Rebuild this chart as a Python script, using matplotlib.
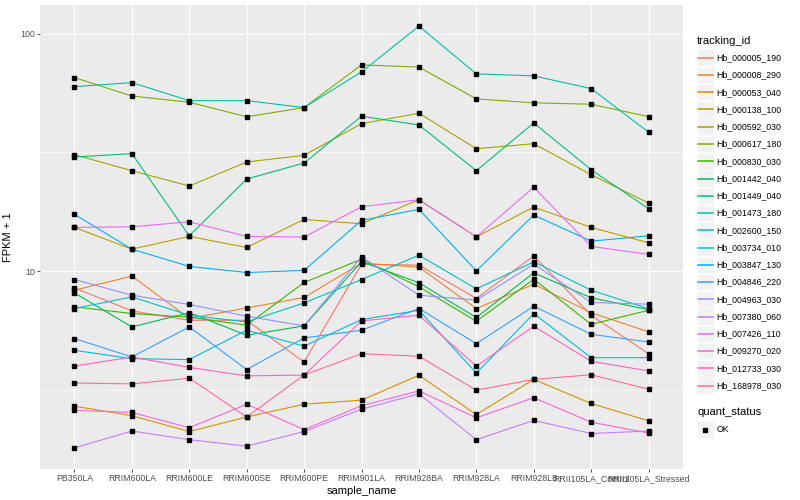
import numpy as np
import matplotlib
matplotlib.use("Agg")
import matplotlib.pyplot as plt
from matplotlib.patches import Rectangle
from matplotlib.lines import Line2D

plt.rcParams['font.family'] = ['Liberation Sans', 'DejaVu Sans']

samples = ["PB350LA", "RRIM600LA", "RRIM600LE", "RRIM600SE", "RRIM600PE",
           "RRIM901LA", "RRIM928BA", "RRIM928LA", "RRIM928LB",
           "RRII105LA_Control", "RRII105LA_Stressed"]

tracking_ids = ["Hb_000005_190", "Hb_000008_290", "Hb_000053_040", "Hb_000138_100",
                "Hb_000592_030", "Hb_000617_180", "Hb_000830_030", "Hb_001442_040",
                "Hb_001449_040", "Hb_001473_180", "Hb_002600_150", "Hb_003734_010",
                "Hb_003847_130", "Hb_004846_220", "Hb_004963_030", "Hb_007380_060",
                "Hb_007426_110", "Hb_009270_020", "Hb_012733_030", "Hb_168978_030"]

hue_colors = ["#F8766D", "#EA8331", "#D89000", "#C09B00", "#A3A500", "#7CAE00",
              "#39B600", "#00BB4E", "#00BF7D", "#00C1A3", "#00BFC4", "#00BAE0",
              "#00B0F6", "#35A2FF", "#9590FF", "#C77CFF", "#E76BF3", "#FA62DB",
              "#FF62BC", "#FF6C91"]

# FPKM + 1 values per tracking id, in sample order
hb_000005_190 = [8.50, 6.80, 6.21, 6.21, 4.14, 10.70, 10.60, 7.67, 11.60, 6.52, 4.49]
hb_000008_290 = [8.31, 9.53, 6.32, 7.00, 7.75, 10.81, 10.40, 6.96, 8.82, 6.68, 5.55]
hb_000053_040 = [2.70, 2.46, 2.11, 2.43, 2.75, 2.86, 3.64, 2.49, 3.50, 2.77, 2.34]
hb_000138_100 = [15.29, 12.38, 14.01, 12.59, 16.52, 15.83, 20.0, 13.95, 18.62, 15.29, 13.17]
hb_000592_030 = [30.95, 26.5, 22.84, 28.84, 30.77, 41.83, 46.29, 32.8, 34.44, 25.49, 19.36]
hb_000617_180 = [65.4, 54.7, 51.5, 44.7, 48.9, 74.0, 72.4, 53.2, 51.2, 50.5, 44.8]
hb_000830_030 = [7.07, 6.63, 6.40, 5.92, 8.96, 11.23, 8.59, 6.15, 9.25, 5.97, 6.84]
hb_001442_040 = [8.10, 5.82, 6.69, 5.37, 5.88, 10.97, 8.93, 6.38, 9.84, 7.72, 6.88]
hb_001449_040 = [30.27, 31.26, 14.09, 24.44, 28.56, 44.96, 41.3, 26.5, 42.12, 26.76, 18.32]
hb_001473_180 = [59.9, 62.3, 52.3, 52.3, 48.9, 69.1, 107.8, 67.8, 66.5, 58.8, 38.5]
hb_002600_150 = [6.96, 7.79, 6.52, 6.11, 7.35, 9.22, 11.68, 8.42, 10.95, 8.31, 6.95]
hb_003734_010 = [4.64, 4.28, 4.24, 5.64, 4.83, 6.25, 6.84, 3.72, 6.63, 4.32, 4.32]
hb_003847_130 = [17.35, 12.38, 10.47, 9.87, 10.07, 16.37, 18.21, 10.03, 17.23, 13.38, 14.09]
hb_004846_220 = [5.20, 4.35, 5.82, 3.85, 5.23, 5.64, 6.96, 4.95, 7.12, 5.42, 5.03]
hb_004963_030 = [9.22, 7.92, 7.24, 6.46, 5.88, 11.49, 7.92, 7.55, 10.70, 7.38, 7.26]
hb_007380_060 = [1.80, 2.12, 1.95, 1.83, 2.11, 2.62, 3.04, 1.95, 2.35, 2.07, 2.12]
hb_007426_110 = [15.29, 15.38, 16.14, 14.01, 13.92, 18.68, 20.0, 13.95, 22.56, 12.72, 11.76]
hb_009270_020 = [2.59, 2.54, 2.19, 2.75, 2.15, 2.71, 3.13, 2.41, 2.93, 2.31, 2.08]
hb_012733_030 = [3.98, 4.35, 3.93, 3.62, 3.65, 6.17, 6.52, 3.98, 5.86, 4.17, 3.80]
hb_168978_030 = [3.38, 3.35, 3.54, 2.43, 3.65, 4.49, 4.38, 3.15, 3.50, 3.66, 3.18]

series = [hb_000005_190, hb_000008_290, hb_000053_040, hb_000138_100, hb_000592_030,
          hb_000617_180, hb_000830_030, hb_001442_040, hb_001449_040, hb_001473_180,
          hb_002600_150, hb_003734_010, hb_003847_130, hb_004846_220, hb_004963_030,
          hb_007380_060, hb_007426_110, hb_009270_020, hb_012733_030, hb_168978_030]

quant_levels = ["OK"]
y_ticks = [10, 100]

W, H = 800, 500
fig = plt.figure(figsize=(8, 5), dpi=100)

L, R, T, B = 40, 683, 5, 469
ax = fig.add_axes([L / W, 1 - B / H, (R - L) / W, (B - T) / H])
ax.set_facecolor("#EBEBEB")
for s in ax.spines.values():
    s.set_visible(False)

x = np.arange(1, len(samples) + 1)
for vals, col in zip(series, hue_colors):
    ax.plot(x, vals, color=col, lw=0.8, zorder=3, solid_capstyle='butt')
for vals in series:
    ax.plot(x, vals, ls='none', marker='s', ms=2.2, color='black', zorder=4)

ax.set_yscale('log')
allv = np.log10(np.concatenate([np.array(v) for v in series]))
lo, hi = allv.min(), allv.max()
pad = 0.05 * (hi - lo)
ax.set_ylim(10 ** (lo - pad), 10 ** (hi + pad))
ax.set_xlim(0.4, len(samples) + 0.6)

ax.set_yticks(y_ticks)
ax.set_yticklabels([str(t) for t in y_ticks])
ax.set_yticks([10 ** 0.5, 10 ** 1.5], minor=True)
ax.yaxis.set_minor_formatter(matplotlib.ticker.NullFormatter())
ax.set_xticks(x)
ax.set_xticklabels(samples)
ax.set_axisbelow(True)
ax.grid(which='major', color='white', lw=0.85)
ax.grid(which='minor', axis='y', color='white', lw=0.45)
ax.tick_params(which='major', length=2.0, width=0.6, color='#333333',
               labelsize=6.3, labelcolor='#4D4D4D', pad=1.6)
ax.tick_params(which='minor', length=0)

ax.set_xlabel("sample_name", fontsize=8, color='black', labelpad=2)
ax.set_ylabel("FPKM + 1", fontsize=8, color='black', labelpad=5)

# legend overlay in pixel coordinates
ov = fig.add_axes([0, 0, 1, 1])
ov.set_xlim(0, W)
ov.set_ylim(H, 0)
ov.axis('off')

lx = 697
ov.text(lx, 40.5, "tracking_id", fontsize=8, va='center', ha='left')
y0, dy = 57.7, 17.26
ks = 16.5
for i, (tid, col) in enumerate(zip(tracking_ids, hue_colors)):
    yc = y0 + i * dy
    ov.add_patch(Rectangle((lx, yc - ks / 2), ks, ks, facecolor='#F2F2F2',
                           edgecolor='white', lw=0.5))
    ov.add_line(Line2D([lx + 0.8, lx + ks - 0.8], [yc, yc], color=col, lw=1.1))
    ov.text(lx + 19.5, yc, tid, fontsize=6.3, va='center', ha='left')

ov.text(lx, 412.3, "quant_status", fontsize=8, va='center', ha='left')
for j, q in enumerate(quant_levels):
    yc = 429.5 + j * dy
    ov.add_patch(Rectangle((lx, yc - ks / 2), ks, ks, facecolor='#F2F2F2',
                           edgecolor='white', lw=0.5))
    ov.plot([lx + ks / 2], [yc], marker='s', ms=2.2, color='black', ls='none')
    ov.text(lx + 19.5, yc, q, fontsize=6.3, va='center', ha='left')

fig.savefig("out.png", dpi=100)
